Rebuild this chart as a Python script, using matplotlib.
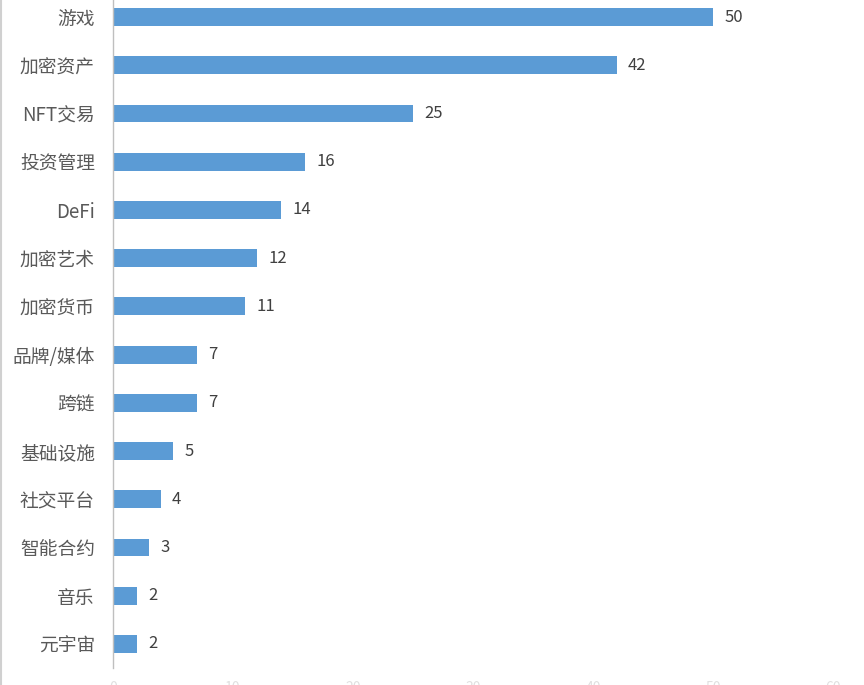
import matplotlib.pyplot as plt
from matplotlib.lines import Line2D

plt.rcParams['font.family'] = ['Noto Sans CJK SC', 'DejaVu Sans']

categories = ['游戏', '加密资产', 'NFT交易', '投资管理', 'DeFi', '加密艺术', '加密货币',
              '品牌/媒体', '跨链', '基础设施', '社交平台', '智能合约', '音乐', '元宇宙']
values = [50, 42, 25, 16, 14, 12, 11, 7, 7, 5, 4, 3, 2, 2]
xticks = [0, 10, 20, 30, 40, 50, 60]

fig = plt.figure(figsize=(8.64, 6.85), dpi=100)
ax = fig.add_axes([113 / 864, 1 - 668 / 685, 720 / 864, 675 / 685])

pos = list(range(len(categories)))[::-1]
bars = ax.barh(pos, values, height=0.37, color='#5B9BD5')
for p, v in zip(pos, values):
    ax.annotate(str(v), (v, p), xytext=(8, 0), textcoords='offset points',
                va='center', ha='left', fontsize=12, color='#404040')

ax.set_yticks(pos)
ax.set_yticklabels(categories, fontsize=13.5, color='#595959')
ax.set_xticks(xticks)
ax.set_xticklabels([str(t) for t in xticks], fontsize=10, color='#E0E0E0')
ax.set_xlim(0, 60)
ax.set_ylim(-0.5, 13.5)
ax.tick_params(axis='y', length=0, pad=13)
ax.tick_params(axis='x', length=0, pad=9)

for s in ['top', 'right', 'bottom']:
    ax.spines[s].set_visible(False)
ax.spines['left'].set_color('#BFBFBF')
ax.spines['left'].set_linewidth(1)

fig.add_artist(Line2D([0.001, 0.001], [0, 1], transform=fig.transFigure, color='#D0D0D0', lw=1.5))

fig.savefig('out.png', dpi=100)
